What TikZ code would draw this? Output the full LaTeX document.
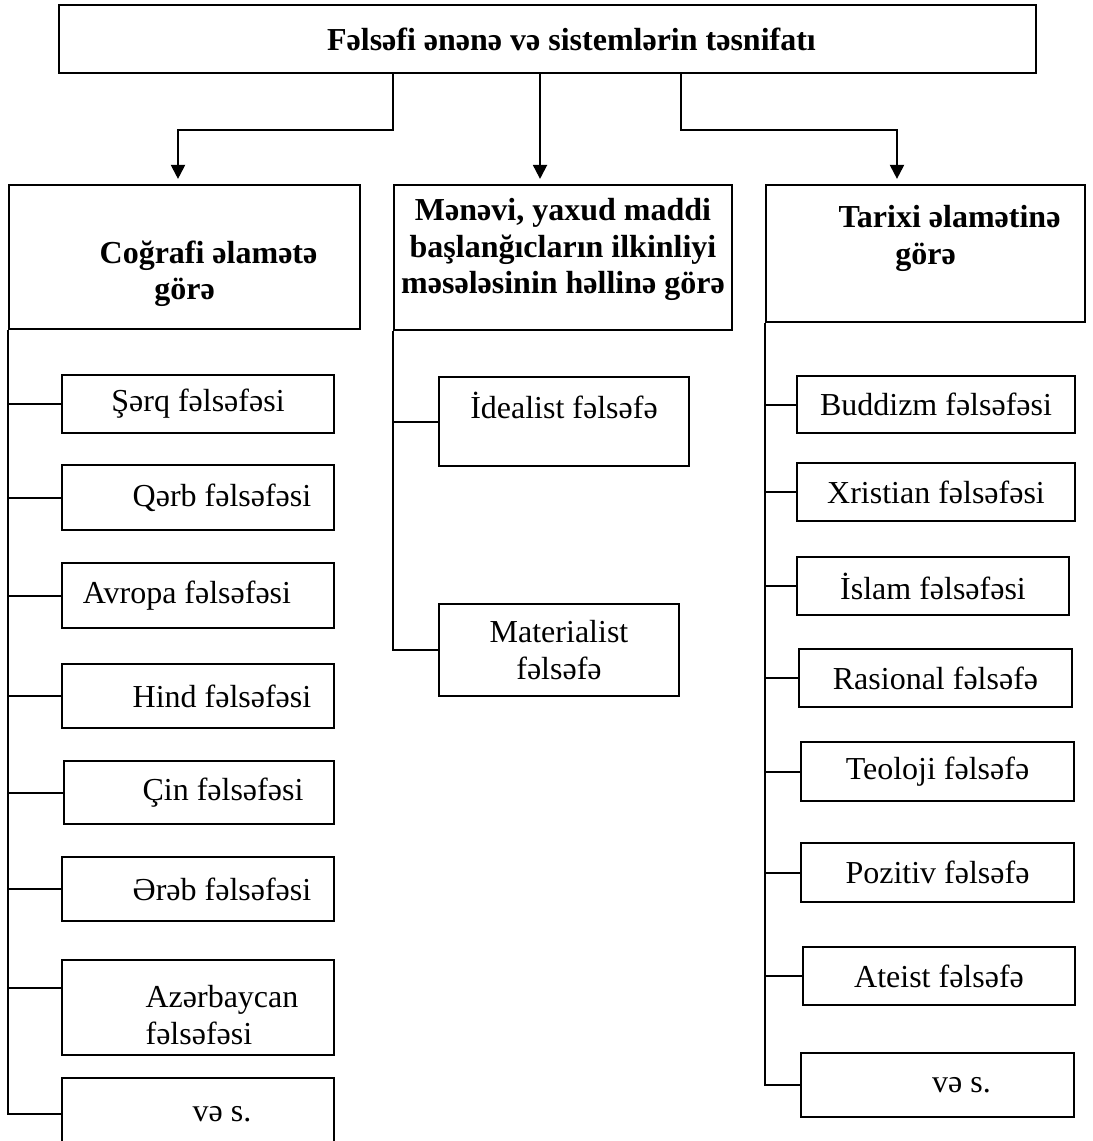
\documentclass[tikz,border=0pt]{standalone}
\usepackage{fontspec}
\setmainfont{Liberation Serif}
\usetikzlibrary{arrows.meta}
\newcommand{\indl}{\hspace*{18pt}}
\newcommand{\lift}[1]{\rule[-#1]{0pt}{#1}}
\newcommand{\drop}[1]{\rule{0pt}{#1}}

\begin{document}
\begin{tikzpicture}[x=0.375pt, y=-0.375pt,
	every node/.style={font=\fontsize{12}{13.8}\selectfont},
	leaf/.style 2 args={draw, line width=0.75pt, inner sep=0pt, align=center, minimum width=#1, minimum height=#2},
	head/.style 2 args={leaf={#1}{#2}, font=\fontsize{12}{13.8}\selectfont\bfseries},
	arr/.style={line width=0.75pt, -{Triangle[length=5.25pt,width=5.25pt]}, shorten >=1.9pt},
	tie/.style={line width=0.75pt}]
	\useasboundingbox (0,0) rectangle (1093,1141);
	\clip (0,0) rectangle (1093,1141);
	% title and the three criteria
	\node[head={366.4pt}{25.5pt}] (top) at (547.5,39) {\indl Fəlsəfi ənənə və sistemlərin təsnifatı};
	\node[head={131.6pt}{54pt}] (geo) at (184.5,257) {\drop{21pt}\indl Coğrafi əlamətə\\görə};
	\node[head={126.75pt}{54.4pt}] (mat) at (563,257.5) {Mənəvi, yaxud maddi\\başlanğıcların ilkinliyi\\məsələsinin həllinə görə\lift{8.6pt}};
	\node[head={119.6pt}{51.4pt}] (hist) at (925.5,253.5) {\indl Tarixi əlamətinə\\görə\lift{14pt}};
	\coordinate (jL) at (178,130);
	\coordinate (jR) at (897,130);
	\draw[arr] (top.south -| mat.west) |- (jL) -- (jL |- geo.north);
	\draw[arr] ([xshift=-2.8pt]top.south) -- ([xshift=-2.8pt]top.south |- mat.north);
	\draw[arr] ([xshift=50pt]top.south) |- (jR) -- (jR |- hist.north);
	% geographic
	\node[leaf={102pt}{21.75pt}] (sharq) at (198,404) {Şərq fəlsəfəsi};
	\node[leaf={102pt}{24.4pt}] (qerb) at (198,497.5) {\indl Qərb fəlsəfəsi};
	\node[leaf={102pt}{24.4pt}] (avropa) at (198,595.5) {Avropa fəlsəfəsi\hspace*{8.25pt}};
	\node[leaf={102pt}{24pt}] (hind) at (198,696) {\indl Hind fəlsəfəsi};
	\node[leaf={101.25pt}{23.6pt}] (cin) at (199,792.5) {\indl Çin fəlsəfəsi};
	\node[leaf={102pt}{24pt}] (ereb) at (198,889) {\indl Ərəb fəlsəfəsi};
	\node[leaf={102pt}{35.6pt}, align=left] (azer) at (198,1007.5) {\drop{14pt}\indl Azərbaycan\\\indl fəlsəfəsi};
	\node[leaf={102pt}{27pt}] (etcA) at (198,1114) {\indl və s.};
	\foreach \n in {sharq,qerb,avropa,hind,cin,ereb,etcA}
		\draw[tie] (geo.south west) |- (\n.west);
	\draw[tie] (geo.south west) |- ([yshift=7.5pt]azer.west);
	% spiritual or material
	\node[leaf={93.75pt}{33.4pt}] (ideal) at (564,421.5) {İdealist fəlsəfə\lift{12pt}};
	\node[leaf={90pt}{34.5pt}] (mater) at (559,650) {Materialist\\fəlsəfə};
	\foreach \n in {ideal,mater}
		\draw[tie] (mat.south west) |- (\n.west);
	% historical
	\node[leaf={104.25pt}{21.4pt}] (budd) at (936,404.5) {Buddizm fəlsəfəsi};
	\node[leaf={104.25pt}{21.75pt}] (xrist) at (936,492) {Xristian fəlsəfəsi};
	\node[leaf={102pt}{21.75pt}] (islam) at (933,586) {İslam fəlsəfəsi};
	\node[leaf={102.4pt}{21.75pt}] (rasio) at (935.5,678) {Rasional fəlsəfə};
	\node[leaf={102.4pt}{22.1pt}] (teol) at (937.5,771.5) {Teoloji fəlsəfə};
	\node[leaf={102.4pt}{22.1pt}] (pozit) at (937.5,872.5) {Pozitiv fəlsəfə};
	\node[leaf={102pt}{21.75pt}] (ateist) at (939,976) {Ateist fəlsəfə};
	\node[leaf={102.4pt}{24pt}] (etcB) at (937.5,1085) {\indl və s.};
	\foreach \n in {budd,xrist,islam,rasio,teol,pozit,ateist,etcB}
		\draw[tie] (hist.south west) |- (\n.west);
\end{tikzpicture}
\end{document}
